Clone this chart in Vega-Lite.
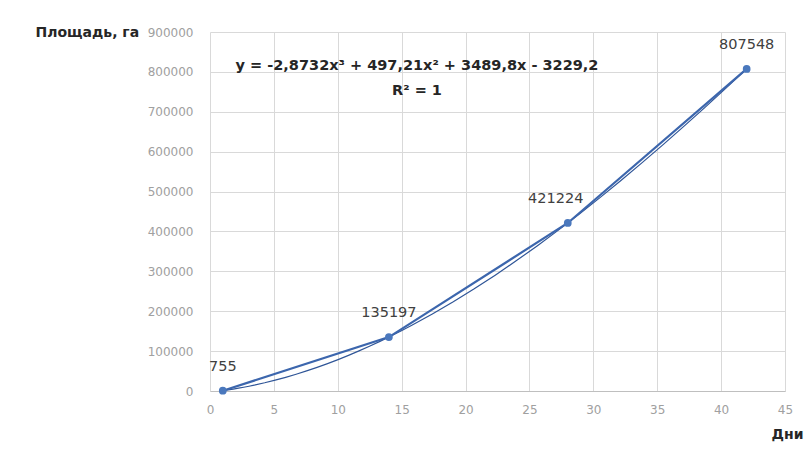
{
  "$schema": "https://vega.github.io/schema/vega-lite/v6.json",
  "width": 575,
  "height": 359,
  "autosize": {"type": "none"},
  "padding": {"left": 210, "top": 32, "right": 24, "bottom": 79},
  "background": "white",
  "config": {
    "view": {"stroke": null},
    "font": "DejaVu Sans",
    "axis": {
      "gridColor": "#d9d9d9",
      "gridWidth": 1,
      "ticks": false,
      "labelColor": "#a0a0a0",
      "labelFontSize": 12,
      "labelFont": "DejaVu Sans",
      "titleFont": "DejaVu Sans",
      "titleFontSize": 14,
      "titleFontWeight": "bold",
      "titleColor": "#262626",
      "labelOverlap": false
    }
  },
  "datasets": {
    "points": [
      {"x": 1, "y": 755},
      {"x": 14, "y": 135197},
      {"x": 28, "y": 421224},
      {"x": 42, "y": 807548}
    ]
  },
  "layer": [
    {
      "data": {"name": "points"},
      "transform": [
        {"regression": "y", "on": "x", "method": "poly", "order": 3, "extent": [1, 42]}
      ],
      "mark": {"type": "line", "color": "#2f5597", "strokeWidth": 1.2},
      "encoding": {
        "x": {
          "field": "x",
          "type": "quantitative",
          "scale": {"domain": [0, 45], "nice": false, "zero": true},
          "axis": {
            "values": [0, 5, 10, 15, 20, 25, 30, 35, 40, 45],
            "title": "Дни",
            "titleAngle": 0,
            "titleAlign": "right",
            "titleX": 593,
            "titleY": 43,
            "titleBaseline": "middle",
            "labelPadding": 13,
            "domainColor": "#bfbfbf",
            "labelFlush": false
          }
        },
        "y": {
          "field": "y",
          "type": "quantitative",
          "scale": {"domain": [0, 900000], "nice": false},
          "axis": {
            "values": [0, 100000, 200000, 300000, 400000, 500000, 600000, 700000, 800000, 900000],
            "format": "d",
            "title": "Площадь, га",
            "titleAngle": 0,
            "titleAlign": "left",
            "titleX": -175,
            "titleY": 0,
            "titleBaseline": "middle",
            "labelPadding": 17,
            "domain": false,
            "labelFlush": false
          }
        }
      }
    },
    {
      "data": {"name": "points"},
      "mark": {"type": "line", "color": "#3c66ad", "strokeWidth": 2.2},
      "encoding": {
        "x": {"field": "x", "type": "quantitative"},
        "y": {"field": "y", "type": "quantitative", "axis": {"values": [0, 100000, 200000, 300000, 400000, 500000, 600000, 700000, 800000, 900000], "format": "d", "title": "Площадь, га"}}
      }
    },
    {
      "data": {"name": "points"},
      "mark": {"type": "point", "filled": true, "color": "#4a78bd", "size": 60, "opacity": 1},
      "encoding": {
        "x": {"field": "x", "type": "quantitative"},
        "y": {"field": "y", "type": "quantitative", "axis": {"values": [0, 100000, 200000, 300000, 400000, 500000, 600000, 700000, 800000, 900000], "format": "d", "title": "Площадь, га"}}
      }
    },
    {
      "data": {"name": "points"},
      "transform": [{"filter": "datum.x != 28"}],
      "mark": {"type": "text", "dy": -24, "fontSize": 14.5, "color": "#404040", "font": "DejaVu Sans"},
      "encoding": {
        "x": {"field": "x", "type": "quantitative"},
        "y": {"field": "y", "type": "quantitative", "axis": {"values": [0, 100000, 200000, 300000, 400000, 500000, 600000, 700000, 800000, 900000], "format": "d", "title": "Площадь, га"}},
        "text": {"field": "y", "type": "quantitative", "format": "d"}
      }
    },
    {
      "data": {"name": "points"},
      "transform": [{"filter": "datum.x == 28"}],
      "mark": {"type": "text", "dy": -24, "dx": -12, "fontSize": 14.5, "color": "#404040", "font": "DejaVu Sans"},
      "encoding": {
        "x": {"field": "x", "type": "quantitative"},
        "y": {"field": "y", "type": "quantitative", "axis": {"values": [0, 100000, 200000, 300000, 400000, 500000, 600000, 700000, 800000, 900000], "format": "d", "title": "Площадь, га"}},
        "text": {"field": "y", "type": "quantitative", "format": "d"}
      }
    },
    {
      "data": {"values": [{"t": "y = -2,8732x³ + 497,21x² + 3489,8x - 3229,2"}]},
      "mark": {
        "type": "text",
        "fontSize": 14.5,
        "fontWeight": "bold",
        "color": "#262626",
        "align": "center",
        "baseline": "middle",
        "font": "DejaVu Sans"
      },
      "encoding": {
        "x": {"datum": 16.2},
        "y": {"datum": 815000, "axis": {"values": [0, 100000, 200000, 300000, 400000, 500000, 600000, 700000, 800000, 900000], "format": "d", "title": "Площадь, га"}},
        "text": {"field": "t", "type": "nominal"}
      }
    },
    {
      "data": {"values": [{"t": "R² = 1"}]},
      "mark": {
        "type": "text",
        "fontSize": 14.5,
        "fontWeight": "bold",
        "color": "#262626",
        "align": "center",
        "baseline": "middle",
        "font": "DejaVu Sans"
      },
      "encoding": {
        "x": {"datum": 16.2},
        "y": {"datum": 752000, "axis": {"values": [0, 100000, 200000, 300000, 400000, 500000, 600000, 700000, 800000, 900000], "format": "d", "title": "Площадь, га"}},
        "text": {"field": "t", "type": "nominal"}
      }
    }
  ]
}
